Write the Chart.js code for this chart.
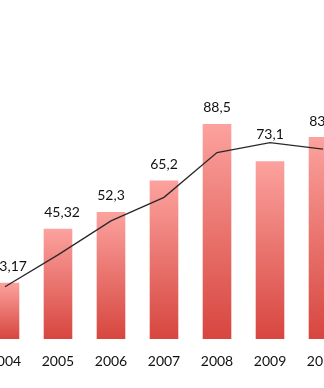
<!DOCTYPE html>
<html>
<head>
<meta charset="utf-8">
<script src="https://cdn.jsdelivr.net/npm/chart.js@4"></script>
<style>
  html, body { margin: 0; padding: 0; background: #fff; overflow: hidden; }
  body { width: 324px; height: 388px; position: relative; }
  #wrap { position: absolute; left: -25px; top: 0; width: 378px; height: 388px; }
</style>
</head>
<body>
<div id="wrap"><canvas id="chart"></canvas></div>
<script>
var years = ['2004', '2005', '2006', '2007', '2008', '2009', '2010'];
var barValues = [23.17, 45.32, 52.3, 65.2, 88.5, 73.1, 83.1];
var lineValues = [21.5, 34.6, 48.6, 58.3, 76.7, 80.8, 78.1];

function barGradient(context) {
  var chart = context.chart;
  if (!chart.chartArea || context.raw === undefined) return '#f08a86';
  var y = chart.scales.y;
  var top = y.getPixelForValue(context.raw);
  var bottom = y.getPixelForValue(0);
  var g = chart.ctx.createLinearGradient(0, top, 0, bottom);
  g.addColorStop(0, '#fca29e');
  g.addColorStop(1, '#d7463f');
  return g;
}

// value labels above the bars (or above the line where it is higher)
var valueLabels = {
  id: 'valueLabels',
  afterDatasetsDraw: function (chart) {
    var ctx = chart.ctx;
    var bars = chart.getDatasetMeta(1).data;
    var pts = chart.getDatasetMeta(0).data;
    ctx.save();
    ctx.font = '14px Lato';
    ctx.fillStyle = '#111';
    ctx.textAlign = 'left';
    ctx.textBaseline = 'middle';
    bars.forEach(function (bar, i) {
      var text = String(barValues[i]).replace('.', ',');
      var comma = text.indexOf(',');
      // centre on the first decimal, like the original
      var core = comma >= 0 ? text.slice(0, comma + 2) : text;
      var x = bar.x - ctx.measureText(core).width / 2;
      var y = Math.min(bar.y - 16, pts[i].y - 8);
      ctx.fillText(text, x, y);
    });
    ctx.restore();
  }
};

new Chart(document.getElementById('chart').getContext('2d'), {
  data: {
    labels: years,
    datasets: [{
      type: 'line',
      data: lineValues,
      borderColor: '#2a2a2a',
      borderWidth: 1.3,
      pointRadius: 0,
      tension: 0,
      fill: false,
      order: 0
    }, {
      type: 'bar',
      data: barValues,
      backgroundColor: barGradient,
      categoryPercentage: 1,
      barPercentage: 0.54,
      order: 1
    }]
  },
  options: {
    responsive: true,
    maintainAspectRatio: false,
    animation: false,
    layout: { padding: { top: 96, left: 0, right: 0, bottom: 0 } },
    plugins: { legend: { display: false }, tooltip: { enabled: false } },
    scales: {
      x: {
        offset: true,
        grid: { display: false, drawTicks: false },
        border: { display: false },
        ticks: { color: '#111', font: { family: 'Lato', size: 14 }, padding: 14 },
        afterFit: function (scale) { scale.height = 49; }
      },
      y: {
        display: false,
        min: 0,
        max: 100
      }
    }
  },
  plugins: [valueLabels]
});
</script>
</body>
</html>
